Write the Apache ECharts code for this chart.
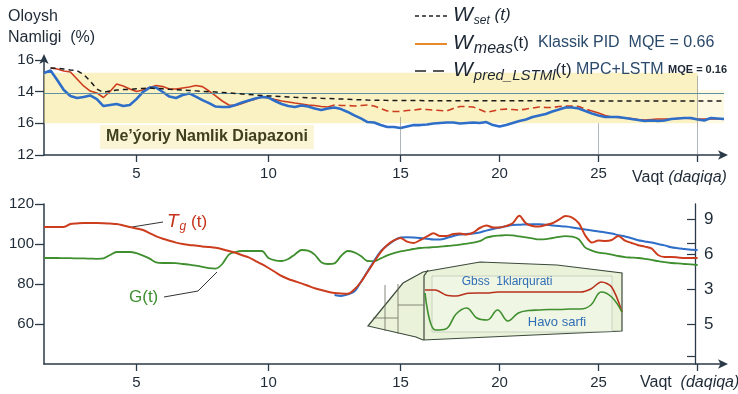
<!DOCTYPE html>
<html><head><meta charset="utf-8">
<script src="https://cdn.jsdelivr.net/npm/echarts@6/dist/echarts.min.js"></script>
<style>html,body{margin:0;padding:0;background:#fff}#c{width:738px;height:394px}</style>
</head><body><div id="c"></div>
<script>
// ---- sample times (minutes): 0.25-min steps to 15, then 1/3-min steps
const timeA = [1.5,1.75,2,2.25,2.5,2.75,3,3.25,3.5,3.75,4,4.25,4.5,4.75,5,5.25,5.5,5.75,6,6.25,6.5,6.75,7,7.25,7.5,7.75,8,8.25,8.5,8.75,9,9.25,9.5,9.75,10,10.25,10.5,10.75,11,11.25,11.5,11.75,12,12.25,12.5,12.75,13,13.25,13.5,13.75,14,14.25,14.5,14.75,15];
const timeB = [15.33,15.67,16,16.33,16.67,17,17.33,17.67,18,18.33,18.67,19,19.33,19.67,20,20.33,20.67,21,21.33,21.67,22,22.33,22.67,23,23.33,23.67,24,24.33,24.67,25,25.33,25.67,26,26.33,26.67,27,27.33,27.67,28,28.33,28.67,29,29.33,29.67,30,30.33,30.67,31,31.33];
const timeCats = timeA.concat(timeB);
const xTickLabels = [5,10,15,20,25];
const xTickMarks = [5,10,15,20,25,30];
const yTopTickValues = [10,12,14,16];
const yTopTickLabels = ['12','16','14','16'];
const yBottomTickValues = [60,80,100,120];
const yRightTickValues = [0,3,6,9];
const yRightTickLabels = ['5','3','6','9'];
const yRightMinorTicks = [-2.8,6.9];

// ---- top panel: moisture (%)
const wSet = [null,15.49,15.48,15.43,15.37,15.33,15.09,14.67,14.17,13.95,
14.04,14.10,14.13,14.15,14.18,14.20,14.23,14.20,14.18,14.15,
14.13,14.10,14.08,14.05,14.02,14.00,13.98,13.95,13.92,13.88,
13.85,13.82,13.79,13.76,13.73,13.71,13.69,13.66,13.64,13.63,
13.61,13.60,13.58,13.57,13.55,13.54,13.52,13.50,13.49,13.47,
13.46,13.46,13.45,13.45,13.45,13.44,13.44,13.44,13.43,13.43,
13.42,13.42,13.42,13.42,13.42,13.42,13.42,13.42,13.42,13.42,
13.42,13.42,13.42,13.42,13.42,13.42,13.42,13.42,13.42,13.42,
13.41,13.41,13.41,13.41,13.41,13.41,13.41,13.41,13.41,13.41,
13.41,13.41,13.41,13.41,13.41,13.41,13.41,13.41,13.41,13.41,
13.41,13.41,13.41,13.41];
const wMeas = [null,15.49,15.43,15.31,15.24,14.80,14.36,14.04,13.92,13.63,
14.01,14.48,14.36,14.17,14.01,14.10,14.26,14.39,14.32,14.17,
14.17,14.23,14.29,14.39,14.32,14.04,13.73,13.41,13.16,13.13,
13.25,13.41,13.53,13.66,13.60,13.50,13.41,13.35,13.28,13.22,
13.16,13.13,13.06,13.03,13.16,13.13,13.13,13.09,13.13,13.16,
13.09,12.94,12.78,12.75,12.75,12.81,12.84,12.90,12.87,12.84,
12.81,12.78,12.94,13.06,13.06,13.03,12.87,12.69,12.78,12.87,
12.90,12.87,12.84,12.90,12.97,13.03,13.00,13.00,13.06,13.09,
13.09,13.06,12.90,12.78,12.65,12.50,12.40,12.37,12.34,12.31,
12.24,12.21,12.24,12.27,12.27,12.27,12.31,12.34,12.31,12.27,
12.27,12.27,12.27,12.27];
const wPred = [15.18,15.34,14.74,14.10,13.73,13.60,13.66,13.76,13.53,13.09,
13.16,13.22,13.09,13.16,13.53,13.98,14.26,14.26,13.98,13.69,
13.60,13.79,13.89,13.69,13.47,13.28,13.06,13.03,13.03,13.16,
13.31,13.44,13.57,13.66,13.63,13.41,13.22,13.09,13.03,13.13,
13.06,12.94,12.84,12.94,13.00,12.90,12.72,12.50,12.31,12.08,
12.05,11.89,11.77,11.77,11.70,11.80,11.89,11.89,11.93,11.99,
12.02,12.05,12.05,11.99,12.02,12.05,12.02,12.08,11.89,11.80,
11.89,12.02,12.15,12.24,12.40,12.50,12.59,12.75,12.87,13.00,
13.00,12.94,12.78,12.62,12.50,12.40,12.40,12.40,12.34,12.27,
12.21,12.15,12.18,12.15,12.18,12.27,12.31,12.34,12.34,12.24,
12.18,12.34,12.31,12.27];
const bandLow = 12.0, bandHigh = 15.2, refLine = 13.9;

// ---- bottom panel
const tg = [108.5,108.5,108.5,108.5,110,110.3,110.5,110.5,110.5,110.4,
110.2,110,109.3,108.5,107.8,107,105.4,103.8,102.6,101.6,
100.7,100,99.5,99.2,98.8,98.5,98.1,97.4,96.5,95.6,
94.4,93.3,91.6,89.9,88,86,84,82.5,81.4,80.3,
79.1,77.9,77,76.1,75.5,75.2,75.1,77.2,81,86,
91,95.9,99.5,101.8,103,101.2,100.5,102,103.8,105.4,
104,104,105,105.3,104.8,105.7,108,109.2,108.3,108.2,
109,110.4,114.1,110.3,109,108.7,109.5,110.4,112.2,114,
113.2,110.4,104.2,100.7,101.8,101.5,102,104,101.7,100.5,
99.4,98.7,97.8,94.5,93.5,93.5,93.3,93,93,93];
const tgMpc = [null,null,null,null,null,null,null,null,null,null,
null,null,null,null,null,null,null,null,null,null,
null,null,null,null,null,null,null,null,null,null,
null,null,null,null,null,null,null,null,null,null,
null,null,null,null,74.5,74,74.8,76.2,81,86.2,
91.5,96.3,99.3,101.7,103.2,103.4,103.3,103,102.6,102.2,
102.2,103,104,104.7,105,105.3,105.8,106.7,107.5,108.2,
108.9,109.5,109.6,109.8,109.9,109.9,109.6,109.3,109,108.7,
108.3,107.8,107.2,106.7,106.3,105.8,105.3,104.4,103.8,102.9,
101.9,101.3,100.7,100,99.3,98.4,97.9,97.5,97.1,97];
const gAir = [93,93,93,92.9,92.9,92.8,92.8,92.7,92.6,92.8,
94.5,96,96,96,95.4,94.2,92.7,90.8,90.5,90.5,
90.4,90,89.7,89.2,88.6,87.9,87.7,90,94.7,96,
96.5,96.5,96.5,96.5,93,91.8,91.5,92.5,94.8,97,
96.7,94.7,90.9,90,90.3,94,96.5,95.8,94,91.5,
91.4,92.8,94.3,95.4,96.3,96.9,97.5,98,98.2,98.4,
98.7,99,99.3,99.7,100.2,100.7,101.4,103.2,103.9,104.2,
104.4,104.3,103.8,103.3,102.8,102.3,102.4,103,103.6,103.9,
103.7,102.4,98.2,96.7,95.7,95.3,94.7,94,93.4,93.2,
93,92.6,92.1,91.4,90.9,90.5,90.3,90,89.8,89.5];

// ---- inset
const insetCats = [1,2,3,4,5,6,7,8,9,10,11,12,13,14,15,16,17,18,19,20];
const insetRed = [7.5,7.5,6.67,6.5,6.92,7,7,7.17,7.17,7.17,7.17,7.17,7.17,7.17,7.17,7.17,7.67,8.83,8,3.83];
const insetGreen = [7,0.83,1,3.5,4.5,2.83,2.5,4.17,2.33,3.67,4.08,4.17,4.25,4.25,4.33,4.33,5,7.17,6.33,3.83];

const FONT = "'Liberation Sans', Arial, sans-serif";
const AX = '#2b3a48';
const TXT = '#1e2a36';
const RED = '#cc3d1e', BLUE = '#2e6ec8', GREEN = '#3f8f2f';

const chart = echarts.init(document.getElementById('c'), null, {renderer:'canvas'});

function xAxisFor(gridIndex){
  return {
    type:'category', gridIndex, data: timeCats, boundaryGap:false,
    axisLine:{show:true, onZero:false, lineStyle:{color:AX, width:1.5}, symbol:['none','arrow'], symbolSize:[7,10], symbolOffset:[0,4]},
    axisTick:{show:true, interval:(i,v)=>xTickMarks.includes(Number(v)), length:7, lineStyle:{color:AX, width:1.3}},
    axisLabel:{interval:(i,v)=>xTickLabels.includes(Number(v)), color:TXT, fontSize:15, margin:11, fontFamily:FONT},
    splitLine:{show:false}
  };
}

const option = {
  animation:false,
  backgroundColor:'#ffffff',
  grid:[
    {left:44, top:60, width:680, height:95},
    {left:44, top:204, width:680, height:160},
    {left:425, top:275, width:197, height:60}
  ],
  xAxis:[
    xAxisFor(0), xAxisFor(1),
    {type:'category', gridIndex:2, data:insetCats, boundaryGap:false, show:false}
  ],
  yAxis:[
    {type:'value', gridIndex:0, min:10, max:16, interval:2,
     axisLine:{show:true, onZero:false, lineStyle:{color:AX, width:1.5}, symbol:['none','arrow'], symbolSize:[7,10], symbolOffset:[0,6]},
     axisTick:{show:true, length:9, lineStyle:{color:AX, width:1.3}},
     axisLabel:{formatter:v=>yTopTickLabels[yTopTickValues.indexOf(v)], color:TXT, fontSize:15, margin:10, fontFamily:FONT},
     splitLine:{show:false}},
    {type:'value', gridIndex:1, min:40, max:120, interval:20,
     axisLine:{show:true, onZero:false, lineStyle:{color:AX, width:1.5}},
     axisTick:{show:true, length:9, customValues:yBottomTickValues, lineStyle:{color:AX, width:1.3}},
     axisLabel:{customValues:yBottomTickValues, color:TXT, fontSize:15, margin:10, fontFamily:FONT},
     splitLine:{show:false}},
    {type:'value', gridIndex:1, position:'right', offset:-29, min:-3.43, max:10.29,
     axisLine:{show:true, onZero:false, lineStyle:{color:AX, width:1.3}},
     axisTick:{show:true, inside:true, length:8, customValues:yRightTickValues.concat(yRightMinorTicks), lineStyle:{color:AX, width:1.2}},
     axisLabel:{customValues:yRightTickValues, formatter:v=>yRightTickLabels[yRightTickValues.indexOf(v)], color:TXT, fontSize:17, margin:9, fontFamily:FONT},
     splitLine:{show:false}},
    {type:'value', gridIndex:2, min:0, max:10, show:false}
  ],
  series:[
    {name:'band', type:'line', xAxisIndex:0, yAxisIndex:0, data:[], silent:true,
     markArea:{silent:true, itemStyle:{color:'rgba(246,226,125,0.45)'},
       data:[[{xAxis:0, yAxis:bandLow},{xAxis:99, yAxis:bandHigh}],
             [{xAxis:99, yAxis:bandLow, itemStyle:{color:'rgba(246,226,125,0.22)'}},{xAxis:103, yAxis:14.1}]]},
     markLine:{silent:true, symbol:'none', label:{show:false},
       lineStyle:{color:'#5f93a3', width:1, type:'solid'},
       data:[{yAxis:refLine},
             [{coord:[54,12.4], lineStyle:{color:'rgba(110,120,125,0.55)'}},{coord:[54,10]}],
             [{coord:[84,12.0], lineStyle:{color:'rgba(110,120,125,0.55)'}},{coord:[84,10]}],
             [{coord:[99,15.0], lineStyle:{color:'rgba(110,120,125,0.55)'}},{coord:[99,10]}]]}},
    {name:'W_meas', type:'line', xAxisIndex:0, yAxisIndex:0, symbol:'none',
     data:wMeas.map((v,i)=>(i<=43||i>=83)?v:null),
     lineStyle:{color:RED, width:1.6}, z:3},
    {name:'W_meas_d', type:'line', xAxisIndex:0, yAxisIndex:0, symbol:'none',
     data:wMeas.map((v,i)=>(i>=43&&i<=83)?v:null),
     lineStyle:{color:RED, width:1.6, type:[7,4]}, z:3},
    {name:'W_pred', type:'line', xAxisIndex:0, yAxisIndex:0, symbol:'none', data:wPred,
     lineStyle:{color:BLUE, width:2.6}, z:4},
    {name:'W_set', type:'line', xAxisIndex:0, yAxisIndex:0, symbol:'none', data:wSet,
     lineStyle:{color:'#1a1a1a', width:1.5, type:[5,4]}, z:5},
    {name:'G', type:'line', xAxisIndex:1, yAxisIndex:1, symbol:'none', data:gAir, smooth:0.3,
     lineStyle:{color:GREEN, width:1.8}, z:3},
    {name:'Tg', type:'line', xAxisIndex:1, yAxisIndex:1, symbol:'none', data:tg, smooth:0.3,
     lineStyle:{color:RED, width:2}, z:4},
    {name:'Tg_mpc', type:'line', xAxisIndex:1, yAxisIndex:1, symbol:'none', data:tgMpc, smooth:0.3,
     lineStyle:{color:BLUE, width:2}, z:3},
    {name:'inset_red', type:'line', xAxisIndex:2, yAxisIndex:3, symbol:'none', data:insetRed, smooth:0.3,
     lineStyle:{color:'#b8311c', width:1.6}, z:6},
    {name:'inset_green', type:'line', xAxisIndex:2, yAxisIndex:3, symbol:'none', data:insetGreen, smooth:0.4,
     lineStyle:{color:GREEN, width:1.6}, z:6}
  ],
  graphic:[
    {type:'text', x:8, y:17, style:{text:'Oloysh', fontSize:16, fontFamily:FONT, fill:TXT, verticalAlign:'middle'}},
    {type:'text', x:8, y:38, style:{text:'Namligi  (%)', fontSize:16, fontFamily:FONT, fill:TXT, verticalAlign:'middle'}},
    // legend
    {type:'line', z:10, shape:{x1:415,y1:16,x2:447,y2:16}, style:{stroke:'#222', lineWidth:1.5, lineDash:[4,3]}},
    {type:'text', z:10, x:453, y:15, style:{text:'{w|W}{s|set}{p| (t)}', verticalAlign:'middle', fontFamily:FONT,
      rich:{w:{fontSize:21, fontStyle:'italic', fill:'#1d2733', fontFamily:FONT},
            s:{fontSize:12, fontStyle:'italic', fill:'#1d2733', padding:[12,0,0,1], fontFamily:FONT},
            p:{fontSize:17, fontStyle:'italic', fill:'#1d2733', fontFamily:FONT}}}},
    {type:'line', z:10, shape:{x1:415,y1:44,x2:447,y2:44}, style:{stroke:'#e88a2c', lineWidth:2}},
    {type:'text', z:10, x:453, y:43, style:{text:'{w|W}{s|meas}{p|(t)}{k|  Klassik PID  MQE = 0.66}', verticalAlign:'middle', fontFamily:FONT,
      rich:{w:{fontSize:21, fontStyle:'italic', fill:'#1d2733', fontFamily:FONT},
            s:{fontSize:16, fontStyle:'italic', fill:'#1d2733', padding:[12,0,0,1], fontFamily:FONT},
            p:{fontSize:17, fill:'#1d2733', fontFamily:FONT},
            k:{fontSize:16, fill:'#2b4a6b', fontFamily:FONT}}}},
    {type:'line', z:10, shape:{x1:415,y1:71,x2:447,y2:71}, style:{stroke:'#222', lineWidth:1.6, lineDash:[11,7]}},
    {type:'text', z:10, x:453, y:70, style:{text:'{w|W}{s|pred_LSTMl}{p|(t)}{k| MPC+LSTM }{m|MQE = 0.16}', verticalAlign:'middle', fontFamily:FONT,
      rich:{w:{fontSize:21, fontStyle:'italic', fill:'#1d2733', fontFamily:FONT},
            s:{fontSize:15, fontStyle:'italic', fill:'#1d2733', padding:[12,0,0,1], fontFamily:FONT},
            p:{fontSize:17, fill:'#1d2733', fontFamily:FONT},
            k:{fontSize:16, fill:'#2b4a6b', fontFamily:FONT},
            m:{fontSize:11, fontWeight:'bold', fill:'#1d2733', fontFamily:FONT}}}},
    // band label
    {type:'text', x:207, y:137, z:10, style:{text:'Me’ýoriy Namlik Diapazoni', fontSize:16, fontWeight:'bold', fontFamily:FONT,
      fill:'#3f3f1c', align:'center', verticalAlign:'middle', backgroundColor:'rgba(250,242,200,0.75)', padding:[4,6]}},
    // axis names
    {type:'text', x:632, y:178, style:{text:'Vaqt {i|(daqiqa)}', fontSize:16, fontFamily:FONT, fill:TXT, verticalAlign:'middle',
      rich:{i:{fontSize:16, fontStyle:'italic', fill:TXT, fontFamily:FONT}}}},
    {type:'text', x:640, y:383, style:{text:'Vaqt  {i|(daqiqa)}', fontSize:16, fontFamily:FONT, fill:TXT, verticalAlign:'middle',
      rich:{i:{fontSize:16, fontStyle:'italic', fill:TXT, fontFamily:FONT}}}},
    // series annotations
    {type:'polyline', shape:{points:[[132,227],[163,222]]}, style:{stroke:'#333', lineWidth:1}},
    {type:'text', z:10, x:167, y:222, style:{text:'{t|T}{g|g}{p| (t)}', verticalAlign:'middle', fontFamily:FONT,
      rich:{t:{fontSize:19, fontStyle:'italic', fill:'#c5321c', fontFamily:FONT},
            g:{fontSize:12, fontStyle:'italic', fill:'#c5321c', padding:[10,0,0,1], fontFamily:FONT},
            p:{fontSize:17, fill:'#c5321c', fontFamily:FONT}}}},
    {type:'polyline', shape:{points:[[164,297],[198,291],[217,272]]}, style:{stroke:'#333', lineWidth:1}},
    {type:'text', x:129, y:297, style:{text:'G(t)', fontSize:17, fontFamily:FONT, fill:GREEN, verticalAlign:'middle'}},
    // inset frame
    {type:'polygon', z:1, shape:{points:[[368,326],[403,283],[423,272],[480,262],[557,265],[622,273],[622,331],[423,340],[416,337]]},
      style:{fill:'rgba(232,242,214,0.9)', stroke:'#3b4a3b', lineWidth:1.2}},
    {type:'polyline', z:2, shape:{points:[[428,270],[424,276],[424,340]]}, style:{stroke:'#3b4a3b', lineWidth:1.2, fill:null}},
    {type:'line', z:2, shape:{x1:385,y1:285,x2:385,y2:331}, style:{stroke:'#6a6a5a', lineWidth:0.8}},
    {type:'line', z:2, shape:{x1:398,y1:284,x2:398,y2:334}, style:{stroke:'#6a6a5a', lineWidth:0.8}},
    {type:'line', z:2, shape:{x1:398,y1:305,x2:424,y2:305}, style:{stroke:'#6a6a5a', lineWidth:0.8}},
    {type:'line', z:2, shape:{x1:373,y1:318,x2:398,y2:318}, style:{stroke:'#6a6a5a', lineWidth:0.8}},
    {type:'rect', z:2, shape:{x:432,y:276,width:180,height:56}, style:{fill:'rgba(255,255,255,0.25)', stroke:'rgba(150,160,150,0.5)', lineWidth:0.8}},
    {type:'text', z:7, x:507, y:282, style:{text:'Gbss  1klarqurati', fontSize:12, fontFamily:FONT, fill:'#2f6db5', align:'center', verticalAlign:'middle'}},
    {type:'text', z:7, x:557, y:322, style:{text:'Havo sarfi', fontSize:13, fontFamily:FONT, fill:'#2f6db5', align:'center', verticalAlign:'middle'}}
  ]
};
chart.setOption(option);
</script></body></html>
